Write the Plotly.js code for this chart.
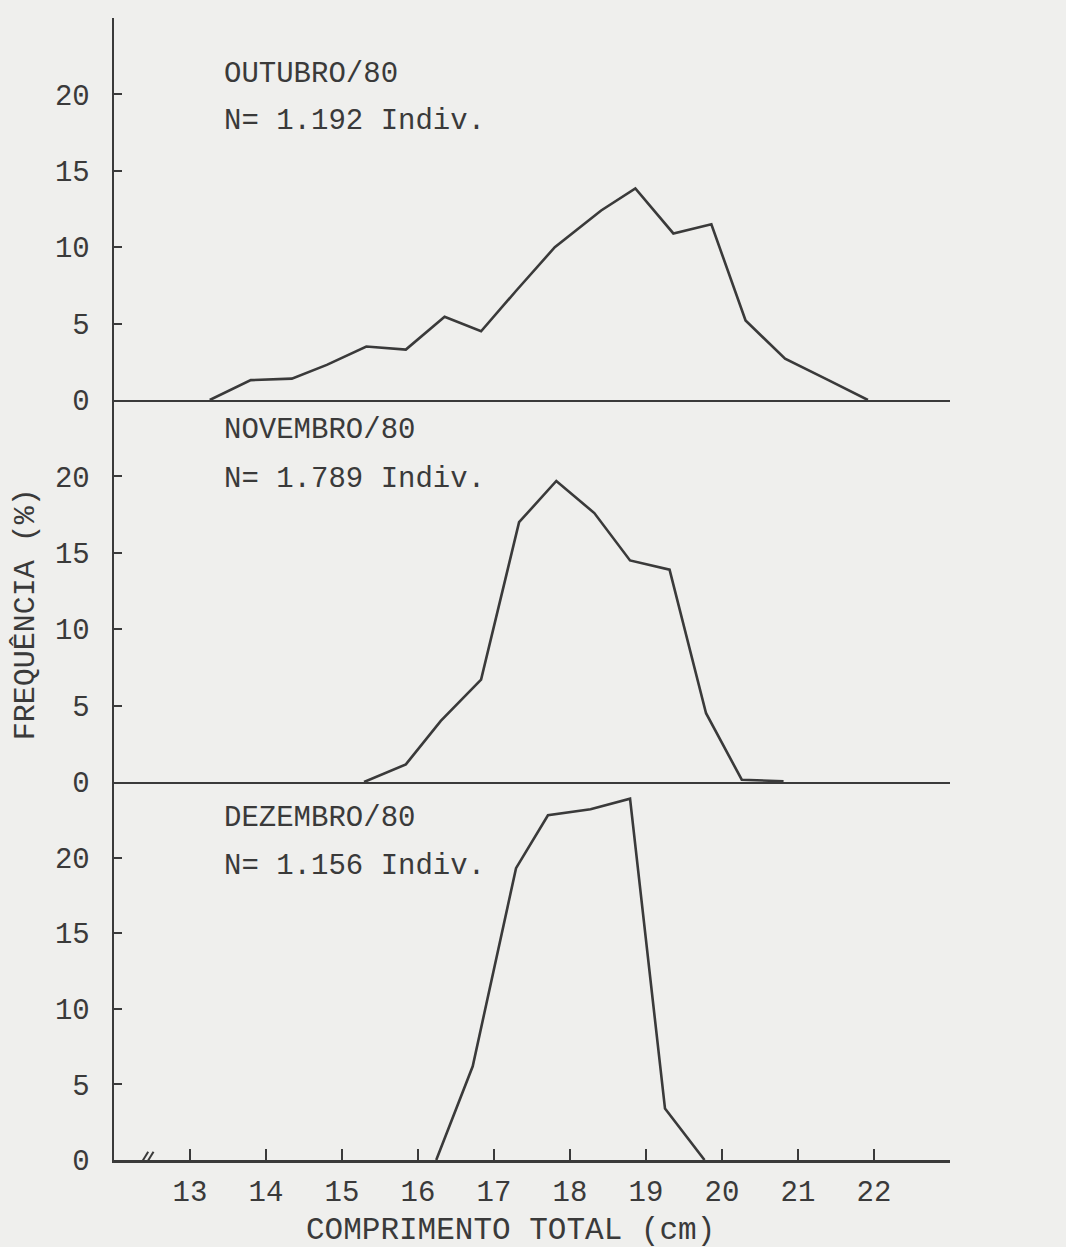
<!DOCTYPE html>
<html>
<head>
<meta charset="utf-8">
<script src="https://cdn.plot.ly/plotly-3.0.1.min.js"></script>
<style>
html,body{margin:0;padding:0;background:#efefed;}
#chart{width:1066px;height:1247px;}
</style>
</head>
<body>
<div id="chart"></div>
<script>
// ---- data ----
const monthLabels = ['OUTUBRO/80', 'NOVEMBRO/80', 'DEZEMBRO/80'];
const countLabels = ['N= 1.192 Indiv.', 'N= 1.789 Indiv.', 'N= 1.156 Indiv.'];

const octX = [13.26, 13.80, 14.34, 14.80, 15.32, 15.84, 16.35, 16.83, 17.30, 17.80, 18.41, 18.86, 19.36, 19.86, 20.31, 20.83, 21.40, 21.92];
const octY = [0, 1.3, 1.4, 2.3, 3.5, 3.3, 5.45, 4.5, 7.2, 10.0, 12.4, 13.85, 10.9, 11.5, 5.2, 2.7, 1.3, 0];

const novX = [15.29, 15.84, 16.30, 16.83, 17.33, 17.82, 18.32, 18.79, 19.31, 19.79, 20.26, 20.81];
const novY = [0, 1.15, 4.0, 6.7, 17.0, 19.7, 17.6, 14.5, 13.9, 4.5, 0.15, 0.05];

const decX = [16.24, 16.72, 17.29, 17.71, 18.27, 18.79, 19.25, 19.77];
const decY = [0, 6.2, 19.3, 22.8, 23.2, 23.9, 3.4, 0];

const xTickVals = [13, 14, 15, 16, 17, 18, 19, 20, 21, 22];
const yTickVals = [0, 5, 10, 15, 20];
const xTitle = 'COMPRIMENTO TOTAL (cm)';
const yTitle = 'FREQUÊNCIA (%)';

// ---- styling ----
const ink = '#3a3a3a';
const paper = '#efefed';
const fam = 'Liberation Mono, Courier New, monospace';

const lineStyle = {color: ink, width: 2.6};
const traces = [
  {x: octX, y: octY, xaxis: 'x', yaxis: 'y', mode: 'lines', line: lineStyle, hoverinfo: 'skip'},
  {x: novX, y: novY, xaxis: 'x2', yaxis: 'y2', mode: 'lines', line: lineStyle, hoverinfo: 'skip'},
  {x: decX, y: decY, xaxis: 'x3', yaxis: 'y3', mode: 'lines', line: lineStyle, hoverinfo: 'skip'}
];

function yAxis(domain) {
  return {
    domain: domain, range: [0, 25], showline: true, linecolor: ink, linewidth: 2.5,
    ticks: 'inside', ticklen: 8, tickwidth: 2, tickcolor: ink,
    tickmode: 'array', tickvals: yTickVals, ticktext: yTickVals.map(String),
    tickfont: {family: fam, size: 29, color: ink}, ticklabelstandoff: 16,
    showgrid: false, zeroline: false, fixedrange: true
  };
}
function xAxis(anchor, labels) {
  const a = {
    anchor: anchor, range: [12, 23], showline: true, linecolor: ink, linewidth: 2.5,
    showgrid: false, zeroline: false, fixedrange: true
  };
  if (labels) {
    Object.assign(a, {
      ticks: 'inside', ticklen: 11, tickwidth: 2, tickcolor: ink,
      tickmode: 'array', tickvals: xTickVals, ticktext: xTickVals.map(String),
      tickfont: {family: fam, size: 29, color: ink}, ticklabelstandoff: 4
    });
  } else {
    Object.assign(a, {ticks: '', showticklabels: false});
  }
  return a;
}

const txtFont = {family: fam, size: 29, color: ink};
const panelRefs = [['x', 'y'], ['x2', 'y2'], ['x3', 'y3']];
const labelY = [[21.3, 18.2], [23.0, 19.8], [22.6, 19.4]];
const annotations = [];
panelRefs.forEach((r, i) => {
  annotations.push({xref: r[0], yref: r[1], x: 13.42, y: labelY[i][0], text: monthLabels[i],
    showarrow: false, xanchor: 'left', yanchor: 'middle', font: txtFont});
  annotations.push({xref: r[0], yref: r[1], x: 13.42, y: labelY[i][1], text: countLabels[i],
    showarrow: false, xanchor: 'left', yanchor: 'middle', font: txtFont});
});
annotations.push({xref: 'paper', yref: 'paper', x: -0.105, y: 0.478, text: yTitle, textangle: -90,
  showarrow: false, xanchor: 'center', yanchor: 'middle', font: {family: fam, size: 30, color: ink}});
annotations.push({xref: 'paper', yref: 'paper', x: 0.4737, y: -0.0615, text: xTitle,
  showarrow: false, xanchor: 'center', yanchor: 'middle', font: {family: fam, size: 31, color: ink}});

// axis break mark "//"
const shapes = [
  {type: 'line', xref: 'x3', yref: 'y3', x0: 12.28, y0: -0.85, x1: 12.45, y1: 0.55, line: {color: ink, width: 2}},
  {type: 'line', xref: 'x3', yref: 'y3', x0: 12.35, y0: -0.85, x1: 12.52, y1: 0.55, line: {color: ink, width: 2}}
];

const layout = {
  width: 1066, height: 1247,
  margin: {l: 114, r: 116, t: 18, b: 87},
  paper_bgcolor: paper, plot_bgcolor: paper,
  showlegend: false,
  xaxis: xAxis('y', false),
  xaxis2: xAxis('y2', false),
  xaxis3: xAxis('y3', true),
  yaxis: yAxis([0.6655, 1]),
  yaxis2: yAxis([0.331, 0.6655]),
  yaxis3: yAxis([0, 0.331]),
  annotations: annotations,
  shapes: shapes
};

Plotly.newPlot('chart', traces, layout, {displayModeBar: false, staticPlot: true});
</script>
</body>
</html>
